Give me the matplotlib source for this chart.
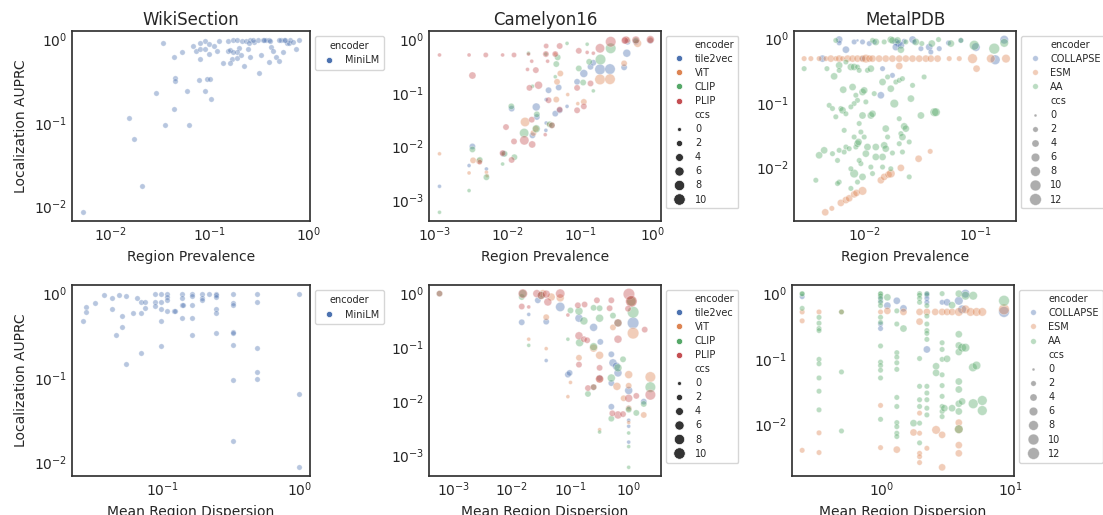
import matplotlib
matplotlib.use("Agg")
import matplotlib.pyplot as plt
from matplotlib.lines import Line2D

# ---- WikiSection (single encoder: MiniLM) ----
wiki_prev_x = [0.0335, 0.0437, 0.0447, 0.0447, 0.052, 0.068, 0.0716, 0.0798, 0.0897, 0.089,
               0.098, 0.097, 0.109, 0.080, 0.119, 0.125, 0.135, 0.152, 0.154, 0.167,
               0.160, 0.173, 0.187, 0.195, 0.187, 0.19, 0.206, 0.21, 0.219, 0.233,
               0.24, 0.252, 0.255, 0.282, 0.305, 0.33, 0.348, 0.368, 0.395, 0.407,
               0.413, 0.433, 0.468, 0.494, 0.521, 0.555, 0.546, 0.60, 0.624, 0.647,
               0.70, 0.745, 0.80, 0.395, 0.315, 0.25, 0.0769, 0.0586, 0.089, 0.102,
               0.0287, 0.0437, 0.0348, 0.061, 0.0153, 0.0171, 0.0204, 0.0052, 0.0933, 0.1007,
               0.079, 0.494, 0.275, 0.16, 0.173, 0.57, 0.355]
wiki_prev_y = [0.91, 0.62, 0.35, 0.32, 0.71, 0.84, 0.73, 0.78, 0.78, 0.955,
               0.88, 0.68, 0.83, 0.58, 0.73, 0.96, 0.53, 0.955, 0.73, 0.59,
               0.52, 0.99, 0.98, 0.80, 0.71, 0.60, 0.65, 0.955, 0.48, 0.95,
               0.76, 0.99, 0.62, 0.94, 0.99, 0.65, 0.99, 0.99, 0.99, 0.955,
               0.82, 0.73, 0.61, 0.56, 0.99, 0.99, 0.70, 0.92, 0.90, 0.99,
               0.94, 0.77, 1.0, 0.54, 0.40, 0.91, 0.33, 0.243, 0.241, 0.194,
               0.226, 0.146, 0.094, 0.096, 0.115, 0.064, 0.0177, 0.00855, 0.336, 0.336,
               0.91, 0.99, 0.99, 0.75, 0.70, 0.99, 1.0]

wiki_disp_x = [0.0264, 0.0279, 0.0279, 0.0326, 0.0375, 0.0427, 0.0427, 0.0464, 0.0486, 0.0513,
               0.0513, 0.0543, 0.0543, 0.0614, 0.065, 0.0699, 0.0699, 0.0706, 0.0755, 0.0755,
               0.0889, 0.0889, 0.0889, 0.0984, 0.0984, 0.0984, 0.0984, 0.0984, 0.1087, 0.1087,
               0.1087, 0.1087, 0.1216, 0.139, 0.139, 0.139, 0.139, 0.141, 0.1637, 0.1637,
               0.1637, 0.1637, 0.1637, 0.196, 0.196, 0.196, 0.219, 0.247, 0.247, 0.247,
               0.247, 0.247, 0.247, 0.33, 0.33, 0.33, 0.33, 0.33, 0.33, 0.33,
               0.33, 0.491, 0.491, 0.491, 0.491, 0.491, 0.995, 0.995, 0.995, 0.1236]
wiki_disp_y = [0.48, 0.69, 0.61, 0.77, 0.955, 0.88, 0.65, 0.32, 0.955, 0.40,
               0.54, 0.94, 0.147, 0.59, 0.89, 0.59, 0.195, 0.80, 0.80, 0.68,
               1.0, 0.80, 0.71, 1.0, 0.80, 0.65, 0.48, 0.24, 1.0, 0.91,
               0.83, 0.62, 0.62, 1.0, 0.88, 0.73, 0.51, 0.73, 1.0, 0.94,
               0.73, 0.51, 0.32, 1.0, 0.88, 0.83, 1.0, 1.0, 0.955, 0.91,
               0.66, 0.59, 0.34, 1.0, 0.77, 0.73, 0.35, 0.34, 0.243, 0.094,
               0.0178, 1.0, 0.80, 0.228, 0.116, 0.097, 1.0, 0.064, 0.0087, 0.62]

# ---- Camelyon16: (value, AUPRC, ccs) per encoder ----
cam_prev_tile2vec = [(0.00115, 0.0018, 0), (0.00294, 0.0044, 0), (0.00327, 0.010, 2), (0.0051, 0.0038, 0),
                     (0.0087, 0.0073, 2), (0.01137, 0.0508, 2), (0.022, 0.0161, 2), (0.0248, 0.0546, 4),
                     (0.0253, 0.0355, 2), (0.034, 0.0274, 0), (0.0337, 0.020, 0), (0.034, 0.075, 0),
                     (0.0367, 0.112, 2), (0.0506, 0.126, 2), (0.0454, 0.041, 2), (0.0522, 0.0473, 2),
                     (0.066, 0.056, 0), (0.0908, 0.161, 2), (0.1124, 0.23, 4), (0.139, 0.307, 2),
                     (0.152, 0.365, 2), (0.188, 0.274, 8), (0.258, 0.278, 8), (0.404, 0.30, 2),
                     (0.44, 0.55, 4), (0.45, 0.90, 2), (0.93, 0.94, 2), (0.587, 0.90, 2)]
cam_prev_vit = [(0.00115, 0.0073, 0), (0.00294, 0.0032, 0), (0.00334, 0.0055, 2), (0.00404, 0.0053, 2),
                (0.0051, 0.0033, 0), (0.00522, 0.00286, 0), (0.00853, 0.0073, 0), (0.0174, 0.0286, 6),
                (0.0227, 0.0178, 2), (0.0245, 0.0214, 2), (0.0469, 0.075, 2), (0.0533, 0.23, 2),
                (0.048, 0.161, 2), (0.0674, 0.093, 0), (0.1124, 0.068, 2), (0.0928, 0.063, 0),
                (0.188, 0.178, 8), (0.258, 0.18, 8), (0.404, 0.355, 2), (0.62, 0.84, 4),
                (0.0454, 0.53, 0), (0.93, 0.97, 2), (0.45, 0.97, 2), (0.0367, 0.0259, 0)]
cam_prev_clip = [(0.00115, 0.00059, 0), (0.00294, 0.0015, 0), (0.00327, 0.0088, 2), (0.00413, 0.0056, 2),
                 (0.0051, 0.00266, 2), (0.00853, 0.0047, 0), (0.00908, 0.0073, 2), (0.0124, 0.0063, 2),
                 (0.01125, 0.056, 2), (0.0169, 0.0178, 6), (0.022, 0.133, 0), (0.0194, 0.55, 0),
                 (0.0248, 0.0214, 4), (0.0253, 0.0398, 2), (0.0379, 0.0259, 2), (0.0408, 0.0248, 2),
                 (0.0469, 0.345, 2), (0.049, 0.46, 2), (0.0454, 0.20, 0), (0.066, 0.84, 0),
                 (0.125, 0.81, 0), (0.0958, 0.286, 2), (0.1333, 0.38, 2), (0.110, 0.156, 2),
                 (0.152, 0.109, 0), (0.191, 0.42, 8), (0.264, 0.68, 8), (0.587, 0.95, 2), (0.0337, 0.53, 0)]
cam_prev_plip = [(0.00115, 0.51, 0), (0.00294, 0.51, 0), (0.0050, 0.51, 1), (0.00853, 0.51, 0),
                 (0.01225, 0.51, 1), (0.0194, 0.53, 0), (0.0337, 0.53, 2), (0.0454, 0.53, 2),
                 (0.034, 0.75, 1), (0.0522, 0.75, 2), (0.0958, 0.61, 2), (0.125, 0.57, 0),
                 (0.152, 0.55, 0), (0.188, 0.68, 6), (0.264, 0.90, 8), (0.427, 0.97, 4),
                 (0.587, 0.97, 4), (0.93, 0.99, 4), (0.413, 0.95, 3), (0.0356, 0.39, 0),
                 (0.0188, 0.274, 0), (0.0215, 0.39, 0), (0.0245, 0.266, 2), (0.0267, 0.139, 4),
                 (0.0367, 0.073, 2), (0.0522, 0.0487, 2), (0.0215, 0.0316, 2), (0.033, 0.0166, 0),
                 (0.017, 0.013, 6), (0.0218, 0.0109, 3), (0.01225, 0.0124, 2), (0.0095, 0.023, 2),
                 (0.00853, 0.0075, 2), (0.01137, 0.0056, 2), (0.00413, 0.0051, 1), (0.00327, 0.211, 3),
                 (0.139, 0.15, 2), (0.0908, 0.124, 2), (0.1124, 0.056, 2), (0.0908, 0.0473, 2),
                 (0.0408, 0.0248, 2), (0.0200, 0.124, 2)]

cam_disp_tile2vec = [(0.0148, 0.286, 2), (0.0195, 0.40, 0), (0.0279, 0.73, 2), (0.0388, 0.294, 2),
                     (0.0388, 0.056, 0), (0.0674, 0.55, 6), (0.0912, 0.0307, 2), (0.0975, 0.033, 2),
                     (0.141, 0.34, 4), (0.251, 0.23, 4), (0.327, 0.124, 2), (0.318, 0.0267, 2),
                     (0.505, 0.073, 2), (0.538, 0.0508, 4), (0.615, 0.044, 4), (0.656, 0.033, 4),
                     (0.505, 0.0214, 2), (0.505, 0.0078, 2), (1.19, 0.278, 10), (1.0, 0.0156, 4),
                     (1.0, 0.0075, 0), (1.0, 0.0044, 0), (1.0, 0.0034, 0), (1.0, 0.00173, 0), (1.81, 0.0097, 2)]
cam_disp_vit = [(0.0195, 0.139, 0), (0.034, 0.97, 4), (0.0472, 0.84, 4), (0.0388, 0.355, 2),
                (0.0388, 0.093, 0), (0.0674, 0.81, 4), (0.101, 0.022, 0), (0.0912, 0.012, 0),
                (0.141, 0.063, 2), (0.251, 0.095, 4), (0.318, 0.07, 4), (0.318, 0.0255, 4),
                (0.318, 0.00294, 0), (0.538, 0.23, 2), (0.63, 0.0186, 4), (1.19, 0.18, 10),
                (1.0, 0.0307, 4), (1.0, 0.0191, 2), (0.82, 0.0112, 2), (1.0, 0.0073, 2),
                (1.0, 0.0040, 0), (1.81, 0.0055, 2), (2.35, 0.0278, 8), (1.11, 0.70, 8)]
cam_disp_clip = [(0.00058, 0.97, 2), (0.0148, 0.84, 2), (0.0195, 0.107, 0), (0.01545, 0.97, 4),
                 (0.0318, 0.90, 4), (0.0912, 0.139, 0), (0.101, 0.473, 2), (0.141, 0.46, 4),
                 (0.1713, 0.303, 4), (0.1445, 0.12, 4), (0.201, 0.0135, 2), (0.251, 0.101, 4),
                 (0.251, 0.53, 2), (0.318, 0.52, 2), (0.318, 0.34, 4), (0.318, 0.00266, 0),
                 (0.538, 0.38, 2), (0.656, 0.041, 4), (0.8, 0.059, 2), (0.505, 0.0266, 4),
                 (0.505, 0.0047, 2), (1.19, 0.44, 10), (1.35, 0.006, 2), (1.0, 0.0069, 2),
                 (1.0, 0.00255, 0), (1.0, 0.00143, 0), (1.0, 0.00059, 0), (1.81, 0.0088, 2),
                 (2.35, 0.018, 8), (0.251, 0.018, 2), (0.656, 0.278, 4), (1.11, 0.70, 6)]
cam_disp_plip = [(0.00058, 0.97, 2), (0.01545, 0.97, 6), (0.0148, 0.56, 2), (0.0195, 0.55, 0),
                 (0.0268, 0.97, 4), (0.0318, 0.90, 4), (0.0388, 0.95, 4), (0.0414, 0.68, 4),
                 (0.0674, 0.97, 6), (0.0912, 0.39, 0), (0.135, 0.59, 2), (0.176, 0.61, 2),
                 (0.141, 0.161, 4), (0.1713, 0.139, 2), (0.195, 0.133, 2), (0.141, 0.047, 2),
                 (0.201, 0.0173, 2), (0.251, 0.018, 2), (0.286, 0.73, 2), (0.318, 0.041, 2),
                 (0.472, 0.52, 2), (0.505, 0.73, 2), (0.656, 0.278, 4), (0.656, 0.139, 4),
                 (0.656, 0.0055, 4), (0.8, 0.0057, 2), (1.01, 0.95, 10), (1.11, 0.70, 10),
                 (0.975, 0.51, 2), (1.0, 0.0112, 4), (1.35, 0.0124, 2), (1.88, 0.209, 2),
                 (2.35, 0.013, 8), (0.525, 0.0059, 2), (0.318, 0.0255, 4)]

# ---- MetalPDB: (value, AUPRC, ccs) per encoder ----
metal_prev_collapse = [(0.00597, 0.97, 4), (0.00597, 0.86, 2), (0.00813, 0.89, 2), (0.00871, 0.94, 0),
                       (0.00966, 0.89, 2), (0.0111, 0.84, 2), (0.00686, 0.675, 4), (0.0123, 0.89, 2),
                       (0.0192, 0.89, 4), (0.0203, 0.84, 4), (0.0228, 0.91, 2), (0.0271, 0.97, 4),
                       (0.028, 0.89, 2), (0.0322, 0.70, 2), (0.0382, 0.74, 4), (0.0395, 0.62, 2),
                       (0.047, 0.70, 2), (0.0569, 0.86, 2), (0.0734, 0.94, 2), (0.1, 0.74, 6),
                       (0.149, 0.47, 8), (0.1794, 0.965, 6), (0.00423, 0.49, 4), (0.0179, 0.269, 2),
                       (0.0141, 0.132, 4), (0.0146, 0.342, 2), (0.00966, 0.49, 2), (0.0192, 0.74, 4),
                       (0.0213, 0.79, 4)]
metal_prev_esm = [(0.0029, 0.49, 2), (0.00333, 0.49, 2), (0.00395, 0.49, 2), (0.00454, 0.49, 2),
                  (0.00503, 0.49, 4), (0.00557, 0.49, 2), (0.00597, 0.49, 4), (0.0064, 0.49, 2),
                  (0.0071, 0.49, 4), (0.00787, 0.49, 4), (0.00871, 0.49, 4), (0.00966, 0.49, 4),
                  (0.01035, 0.49, 6), (0.0111, 0.49, 4), (0.01187, 0.49, 4), (0.0136, 0.49, 4),
                  (0.0156, 0.49, 4), (0.0179, 0.49, 4), (0.0206, 0.49, 4), (0.0236, 0.49, 4),
                  (0.0271, 0.49, 4), (0.0311, 0.49, 4), (0.0356, 0.49, 4), (0.0395, 0.49, 4),
                  (0.0454, 0.49, 4), (0.0577, 0.49, 2), (0.071, 0.49, 2), (0.0933, 0.49, 8),
                  (0.136, 0.49, 6), (0.186, 0.49, 6), (0.1014, 0.342, 4), (0.0206, 0.376, 4),
                  (0.00448, 0.002, 4), (0.00513, 0.0023, 2), (0.00618, 0.0028, 4), (0.00686, 0.0031, 4),
                  (0.00734, 0.0033, 4), (0.00813, 0.0038, 4), (0.00853, 0.004, 4), (0.00966, 0.0043, 6),
                  (0.0141, 0.0063, 4), (0.0151, 0.0071, 4), (0.0165, 0.0077, 4), (0.0173, 0.008, 6),
                  (0.0213, 0.0098, 4), (0.0307, 0.0136, 4), (0.039, 0.0177, 2)]
metal_prev_aa = [(0.0029, 0.342, 2), (0.00464, 0.342, 2), (0.00557, 0.94, 2), (0.00597, 0.385, 4),
                 (0.00686, 0.434, 2), (0.0076, 0.363, 4), (0.00813, 0.363, 4), (0.00871, 0.363, 2),
                 (0.00902, 0.322, 2), (0.0107, 0.322, 2), (0.01147, 0.342, 4), (0.01187, 0.94, 2),
                 (0.0127, 0.89, 4), (0.0151, 0.89, 2), (0.0173, 0.965, 4), (0.0179, 0.94, 4),
                 (0.0199, 0.94, 4), (0.0213, 0.675, 4), (0.0236, 0.89, 2), (0.029, 0.89, 4),
                 (0.0328, 0.84, 2), (0.0403, 0.84, 4), (0.0463, 0.97, 2), (0.0597, 0.84, 4),
                 (0.0734, 0.94, 2), (0.0966, 0.79, 8), (0.146, 0.70, 10), (0.1794, 0.86, 6),
                 (0.00538, 0.26, 4), (0.00597, 0.322, 2), (0.00649, 0.161, 4), (0.00787, 0.177, 4),
                 (0.00842, 0.132, 2), (0.00966, 0.148, 4), (0.01, 0.157, 4), (0.01035, 0.104, 2),
                 (0.00871, 0.11, 2), (0.00813, 0.098, 2), (0.00618, 0.082, 2), (0.0064, 0.077, 4),
                 (0.00486, 0.092, 2), (0.0052, 0.082, 2), (0.00557, 0.061, 2), (0.00686, 0.068, 2),
                 (0.0076, 0.087, 2), (0.00966, 0.064, 4), (0.01147, 0.064, 4), (0.01187, 0.068, 4),
                 (0.0123, 0.14, 2), (0.0146, 0.212, 4), (0.0162, 0.254, 2), (0.0173, 0.167, 4),
                 (0.0192, 0.212, 2), (0.0206, 0.225, 2), (0.022, 0.239, 2), (0.0271, 0.188, 2),
                 (0.0344, 0.254, 2), (0.0186, 0.098, 6), (0.0262, 0.117, 4), (0.0322, 0.064, 4),
                 (0.0424, 0.072, 6), (0.0439, 0.072, 6), (0.0206, 0.057, 2), (0.0228, 0.0434, 4),
                 (0.0236, 0.040, 4), (0.00662, 0.0376, 2), (0.00902, 0.048, 2), (0.00934, 0.0354, 2),
                 (0.01, 0.0296, 2), (0.00813, 0.0296, 2), (0.0156, 0.040, 4), (0.0162, 0.0296, 2),
                 (0.0213, 0.0334, 2), (0.022, 0.0296, 4), (0.0253, 0.0248, 2), (0.0206, 0.0233, 2),
                 (0.00438, 0.0184, 4), (0.00395, 0.0154, 4), (0.0052, 0.0163, 2), (0.00597, 0.0184, 2),
                 (0.00662, 0.0173, 2), (0.00686, 0.0207, 2), (0.00734, 0.0195, 2), (0.00842, 0.0207, 2),
                 (0.00871, 0.0233, 4), (0.0089, 0.0248, 4), (0.0107, 0.0207, 4), (0.0127, 0.0207, 4),
                 (0.0151, 0.022, 4), (0.0156, 0.0195, 4), (0.01035, 0.0163, 4), (0.0146, 0.0145, 4),
                 (0.0179, 0.0167, 2), (0.022, 0.0173, 2), (0.00934, 0.0114, 2), (0.00813, 0.008, 6),
                 (0.00966, 0.0071, 4), (0.00597, 0.0059, 2), (0.0076, 0.0095, 2), (0.00902, 0.0128, 2),
                 (0.00577, 0.0128, 2), (0.01147, 0.0101, 2), (0.0127, 0.0145, 4), (0.0146, 0.0101, 2),
                 (0.0173, 0.0095, 2), (0.00369, 0.0063, 2), (0.00577, 0.0056, 2), (0.0076, 0.0047, 2),
                 (0.00871, 0.0059, 2), (0.01187, 0.008, 2), (0.0253, 0.0071, 2)]

metal_disp_collapse = [(0.242, 0.89, 2), (0.98, 0.77, 2), (0.98, 0.34, 2), (0.98, 0.29, 2),
                       (0.98, 0.87, 2), (1.107, 0.65, 4), (1.31, 0.77, 4), (1.475, 0.59, 4),
                       (2.24, 0.99, 2), (2.24, 0.94, 2), (2.24, 0.84, 2), (2.24, 0.73, 2),
                       (2.24, 0.139, 4), (2.94, 0.73, 2), (3.96, 0.77, 6), (4.46, 0.99, 6),
                       (8.87, 0.52, 10), (3.21, 0.73, 4), (4.2, 0.57, 6)]
metal_disp_esm = [(0.242, 0.52, 2), (0.242, 0.38, 2), (0.242, 0.004, 2), (0.327, 0.52, 2),
                  (0.327, 0.0074, 2), (0.327, 0.0037, 2), (0.488, 0.52, 2), (0.98, 0.52, 2),
                  (0.98, 0.0194, 2), (0.98, 0.0044, 2), (1.107, 0.54, 4), (1.31, 0.0041, 4),
                  (1.475, 0.52, 4), (1.765, 0.0075, 4), (1.966, 0.52, 4), (1.966, 0.37, 4),
                  (1.966, 0.0148, 2), (1.966, 0.0036, 2), (1.966, 0.0032, 2), (1.966, 0.0026, 2),
                  (1.966, 0.0073, 2), (2.24, 0.52, 4), (2.24, 0.0043, 2), (2.64, 0.0082, 6),
                  (2.94, 0.52, 4), (2.94, 0.0069, 4), (2.94, 0.0022, 4), (3.21, 0.52, 4),
                  (3.51, 0.52, 4), (3.96, 0.52, 6), (3.96, 0.0106, 4), (3.96, 0.0048, 4),
                  (3.96, 0.0036, 4), (3.96, 0.0084, 6), (4.46, 0.57, 6), (4.88, 0.52, 6),
                  (5.43, 0.52, 6), (6.02, 0.52, 6), (8.87, 0.57, 10), (2.6, 0.52, 4)]
metal_disp_aa = [(0.242, 0.99, 2), (0.242, 0.98, 2), (0.242, 0.59, 2), (0.327, 0.43, 2),
                 (0.327, 0.35, 2), (0.327, 0.29, 2), (0.327, 0.27, 2), (0.327, 0.098, 2),
                 (0.327, 0.084, 2), (0.327, 0.051, 2), (0.327, 0.032, 2), (0.327, 0.0166, 2),
                 (0.488, 0.063, 2), (0.488, 0.0079, 2), (0.488, 0.52, 2),
                 (0.98, 0.99, 2), (0.98, 0.98, 2), (0.98, 0.92, 2), (0.98, 0.84, 2), (0.98, 0.73, 2),
                 (0.98, 0.65, 2), (0.98, 0.43, 2), (0.98, 0.36, 2), (0.98, 0.157, 2), (0.98, 0.089, 2),
                 (0.98, 0.079, 2), (0.98, 0.067, 2), (0.98, 0.051, 2), (0.98, 0.0119, 2),
                 (1.107, 0.87, 4),
                 (1.31, 0.54, 2), (1.31, 0.34, 2), (1.31, 0.124, 2), (1.31, 0.106, 2), (1.31, 0.087, 2),
                 (1.31, 0.069, 2), (1.31, 0.0257, 2), (1.31, 0.0187, 2), (1.31, 0.0106, 2),
                 (1.31, 0.0092, 2), (1.31, 0.0073, 2), (1.31, 0.0065, 2),
                 (1.475, 0.29, 4), (1.765, 0.0104, 4),
                 (1.966, 0.99, 2), (1.966, 0.94, 2), (1.966, 0.84, 2), (1.966, 0.73, 2), (1.966, 0.101, 2),
                 (1.966, 0.038, 2), (1.966, 0.0237, 2), (1.966, 0.0187, 2), (1.966, 0.0104, 2),
                 (1.966, 0.0052, 2),
                 (2.24, 0.98, 2), (2.24, 0.65, 2), (2.24, 0.45, 2), (2.24, 0.34, 2), (2.24, 0.27, 2),
                 (2.24, 0.245, 2), (2.24, 0.198, 2), (2.24, 0.038, 2), (2.24, 0.03, 2), (2.24, 0.0237, 2),
                 (2.24, 0.0176, 2), (2.24, 0.0139, 2),
                 (2.64, 0.077, 4), (2.64, 0.061, 4),
                 (2.94, 0.99, 2), (2.94, 0.176, 2), (2.94, 0.139, 2), (2.94, 0.098, 2), (2.94, 0.057, 2),
                 (2.94, 0.039, 2), (2.94, 0.0267, 2), (2.94, 0.0187, 2), (2.94, 0.0157, 2), (2.94, 0.0131, 2),
                 (3.21, 0.1, 4), (3.06, 0.0176, 4), (3.51, 0.66, 4), (3.51, 0.0176, 4),
                 (3.96, 0.99, 4), (3.96, 0.237, 4), (3.96, 0.16, 4), (3.96, 0.127, 4), (3.96, 0.045, 4),
                 (3.96, 0.034, 4), (3.96, 0.0206, 4), (3.96, 0.0157, 4), (3.96, 0.0084, 6),
                 (4.2, 0.148, 6), (4.2, 0.0223, 4), (4.46, 0.92, 6), (4.46, 0.148, 6),
                 (5.09, 0.074, 6), (5.43, 0.079, 6), (5.12, 0.92, 6), (5.12, 0.0206, 8),
                 (6.02, 0.0231, 8), (6.02, 0.0162, 8), (8.87, 0.77, 10)]

cam_encoders = ["tile2vec", "ViT", "CLIP", "PLIP"]
metal_encoders = ["COLLAPSE", "ESM", "AA"]
cam_ccs_ticks = [0, 2, 4, 6, 8, 10]
metal_ccs_ticks = [0, 2, 4, 6, 8, 10, 12]

blue, orange, green, red = "#4C72B0", "#DD8452", "#55A868", "#C44E52"
ALPHA = 0.4
LEG_FS = 7

plt.rcParams.update({
    "font.family": "DejaVu Sans",
    "text.color": ".15",
    "axes.labelcolor": ".15",
    "xtick.color": ".15",
    "ytick.color": ".15",
    "axes.edgecolor": ".2",
    "axes.linewidth": 1.25,
    "xtick.major.size": 0, "xtick.minor.size": 0,
    "ytick.major.size": 0, "ytick.minor.size": 0,
    "xtick.labelsize": 10, "ytick.labelsize": 10,
    "axes.labelsize": 10, "axes.titlesize": 12,
})


def cam_size(c):
    return 8 + 6 * c


def metal_size(c):
    return 4 + 5.5 * c


def draw_groups(ax, groups, size_fn):
    for pts, color in groups:
        ax.scatter([p[0] for p in pts], [p[1] for p in pts],
                   s=[size_fn(p[2]) for p in pts], color=color, alpha=ALPHA,
                   edgecolor="white", linewidth=0.5)
    ax.set_xscale("log")
    ax.set_yscale("log")


def header(text):
    return Line2D([], [], linestyle="", marker="", label=text)


def grouped_legend(ax, names, colors, ticks, size_fn, alpha):
    handles = [header("encoder")]
    for n, c in zip(names, colors):
        handles.append(Line2D([], [], linestyle="", marker="o", markersize=4.5 if alpha == 1 else 4,
                              color=c, markeredgecolor="white", markeredgewidth=0.5,
                              alpha=alpha, label=n))
    handles.append(header("ccs"))
    for t in ticks:
        handles.append(Line2D([], [], linestyle="", marker="o", markersize=size_fn(t) ** 0.5,
                              color=".2", markeredgecolor="white", markeredgewidth=0.5,
                              alpha=alpha, label=str(t)))
    ax.legend(handles=handles, loc="upper left", bbox_to_anchor=(1.0, 1.0),
              fontsize=LEG_FS, labelspacing=0.42, handletextpad=0.6, borderpad=0.4)


fig = plt.figure(figsize=(11.03, 5.15), dpi=100)
ax1 = fig.add_axes([0.0653, 0.571, 0.2158, 0.369])
ax2 = fig.add_axes([0.3889, 0.571, 0.2103, 0.369])
ax3 = fig.add_axes([0.7199, 0.571, 0.2013, 0.369])
ax4 = fig.add_axes([0.0653, 0.0757, 0.2158, 0.371])
ax5 = fig.add_axes([0.3889, 0.0757, 0.2103, 0.371])
ax6 = fig.add_axes([0.7181, 0.0757, 0.2013, 0.371])

# WikiSection
for ax, xs, ys in [(ax1, wiki_prev_x, wiki_prev_y), (ax4, wiki_disp_x, wiki_disp_y)]:
    ax.scatter(xs, ys, s=15, color=blue, alpha=ALPHA, edgecolor="white", linewidth=0.5)
    ax.set_xscale("log")
    ax.set_yscale("log")
    ax.set_ylabel("Localization AUPRC")
    h = [Line2D([], [], linestyle="", marker="o", markersize=4.5, color=blue,
                markeredgecolor="white", markeredgewidth=0.5, label="MiniLM")]
    ax.legend(handles=h, title="encoder", loc="upper left", bbox_to_anchor=(1.0, 1.0),
              fontsize=LEG_FS, title_fontsize=LEG_FS, borderpad=0.5, handletextpad=0.6)

cam_colors = [blue, orange, green, red]
metal_colors = [blue, orange, green]

draw_groups(ax2, zip([cam_prev_tile2vec, cam_prev_vit, cam_prev_clip, cam_prev_plip], cam_colors), cam_size)
draw_groups(ax5, zip([cam_disp_tile2vec, cam_disp_vit, cam_disp_clip, cam_disp_plip], cam_colors), cam_size)
draw_groups(ax3, zip([metal_prev_collapse, metal_prev_esm, metal_prev_aa], metal_colors), metal_size)
draw_groups(ax6, zip([metal_disp_collapse, metal_disp_esm, metal_disp_aa], metal_colors), metal_size)

for ax in (ax2, ax5):
    grouped_legend(ax, cam_encoders, cam_colors, cam_ccs_ticks, cam_size, 1)
for ax in (ax3, ax6):
    grouped_legend(ax, metal_encoders, metal_colors, metal_ccs_ticks, metal_size, ALPHA)

ax1.set_title("WikiSection", pad=4)
ax2.set_title("Camelyon16", pad=4)
ax3.set_title("MetalPDB", pad=4)
for ax in (ax1, ax2, ax3):
    ax.set_xlabel("Region Prevalence")
for ax in (ax4, ax5, ax6):
    ax.set_xlabel("Mean Region Dispersion")

fig.savefig("out.png", dpi=100)
